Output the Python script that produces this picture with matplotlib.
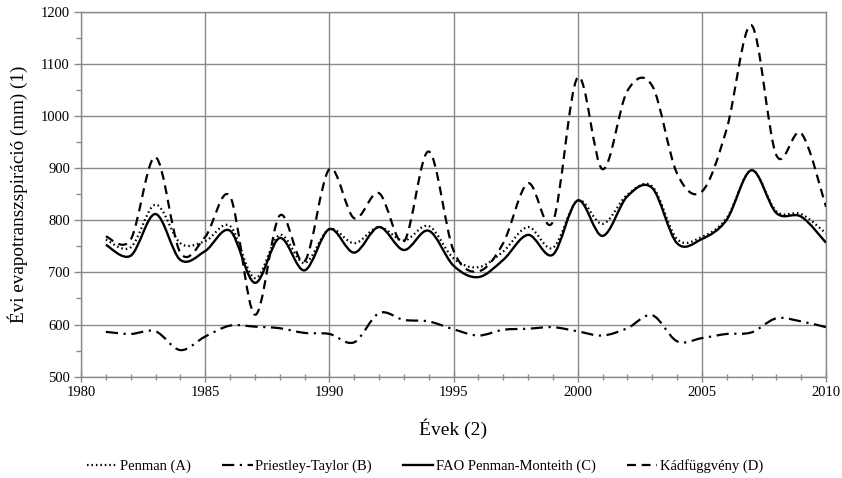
import numpy as np
import matplotlib
matplotlib.use("Agg")
import matplotlib.pyplot as plt
from matplotlib.path import Path
from matplotlib.patches import PathPatch
from matplotlib.lines import Line2D
from matplotlib.ticker import MultipleLocator

plt.rcParams["font.family"] = ["Liberation Serif", "DejaVu Serif"]

years = list(range(1981, 2011))

penman = [763, 748, 830, 756, 760, 789, 689, 772, 718, 783,
          756, 787, 761, 789, 727, 710, 740, 787, 747, 838,
          793, 849, 865, 764, 768, 804, 896, 817, 812, 775]

priestley_taylor = [586, 582, 587, 551, 577, 598, 596, 593, 584, 582,
                    566, 622, 609, 606, 591, 579, 590, 592, 595, 587,
                    579, 593, 618, 568, 574, 582, 585, 612, 606, 595]

fao_pm = [753, 732, 812, 724, 741, 780, 680, 766, 704, 783,
          738, 787, 743, 780, 713, 691, 724, 772, 734, 838,
          770, 846, 862, 756, 764, 801, 896, 814, 807, 757]

kad = [769, 763, 921, 738, 768, 846, 619, 809, 721, 898,
       804, 852, 759, 932, 742, 702, 756, 871, 797, 1074,
       898, 1048, 1058, 890, 855, 975, 1174, 925, 967, 826]

series_names = ["Penman (A)", "Priestley-Taylor (B)",
                "FAO Penman-Monteith (C)", "Kádfüggvény (D)"]

x_ticks = [1980, 1985, 1990, 1995, 2000, 2005, 2010]
y_ticks = [500, 600, 700, 800, 900, 1000, 1100, 1200]


def smooth_path(xs, ys):
    """Cubic Bezier path through every point (spreadsheet-style smoothing)."""
    pts = np.column_stack([xs, ys]).astype(float)
    n = len(pts)
    verts = [pts[0]]
    codes = [Path.MOVETO]
    for i in range(n - 1):
        p0 = pts[i - 1] if i > 0 else pts[i]
        p1 = pts[i]
        p2 = pts[i + 1]
        p3 = pts[i + 2] if i + 2 < n else pts[i + 1]
        c1 = p1 + (p2 - p0) / 6.0
        c2 = p2 - (p3 - p1) / 6.0
        verts += [c1, c2, p2]
        codes += [Path.CURVE4] * 3
    return Path(verts, codes)


styles = [
    dict(linestyle=(0, (0.7, 1.3)), linewidth=1.6),
    dict(linestyle=(0, (5.5, 2.5, 1.0, 2.5)), linewidth=1.6),
    dict(linestyle="-", linewidth=1.7),
    dict(linestyle=(0, (4.0, 2.6)), linewidth=1.6),
]

fig = plt.figure(figsize=(8.42, 4.78), dpi=100)
ax = fig.add_axes([0.0962, 0.2119, 0.8848, 0.7636])

grid_color = "#8a8a8a"
for data, st in zip([penman, priestley_taylor, fao_pm, kad], styles):
    patch = PathPatch(smooth_path(years, data), fill=False, edgecolor="black",
                      capstyle="butt", joinstyle="round", zorder=3, **st)
    ax.add_patch(patch)

ax.set_xlim(1980, 2010)
ax.set_ylim(500, 1200)
ax.set_xticks(x_ticks)
ax.set_yticks(y_ticks)
ax.xaxis.set_minor_locator(MultipleLocator(1))
ax.yaxis.set_minor_locator(MultipleLocator(50))
ax.grid(True, which="major", color=grid_color, linewidth=1.0, zorder=0)
ax.set_axisbelow(True)
for sp in ax.spines.values():
    sp.set_color(grid_color)
    sp.set_linewidth(1.0)
ax.tick_params(which="both", color=grid_color, width=1.0)
ax.tick_params(axis="y", which="major", direction="out", length=5)
ax.tick_params(axis="y", which="minor", direction="out", length=3.5)
ax.tick_params(axis="x", which="major", direction="inout", length=7)
ax.tick_params(axis="x", which="minor", direction="inout", length=5)
ax.tick_params(which="major", labelsize=10.5, pad=3)

ax.set_xlabel("Évek (2)", fontsize=14, labelpad=14)
ax.set_ylabel("Évi evapotranszspiráció (mm) (1)", fontsize=13.8, labelpad=9)

handles = [Line2D([], [], color="black", **st) for st in styles]
fig.legend(handles, series_names, loc="center", bbox_to_anchor=(0.505, 0.025),
           ncol=4, frameon=False, fontsize=10.5, handlelength=2.1,
           handletextpad=0.2, columnspacing=2.1)

fig.savefig("out.png", dpi=100, facecolor="white")
